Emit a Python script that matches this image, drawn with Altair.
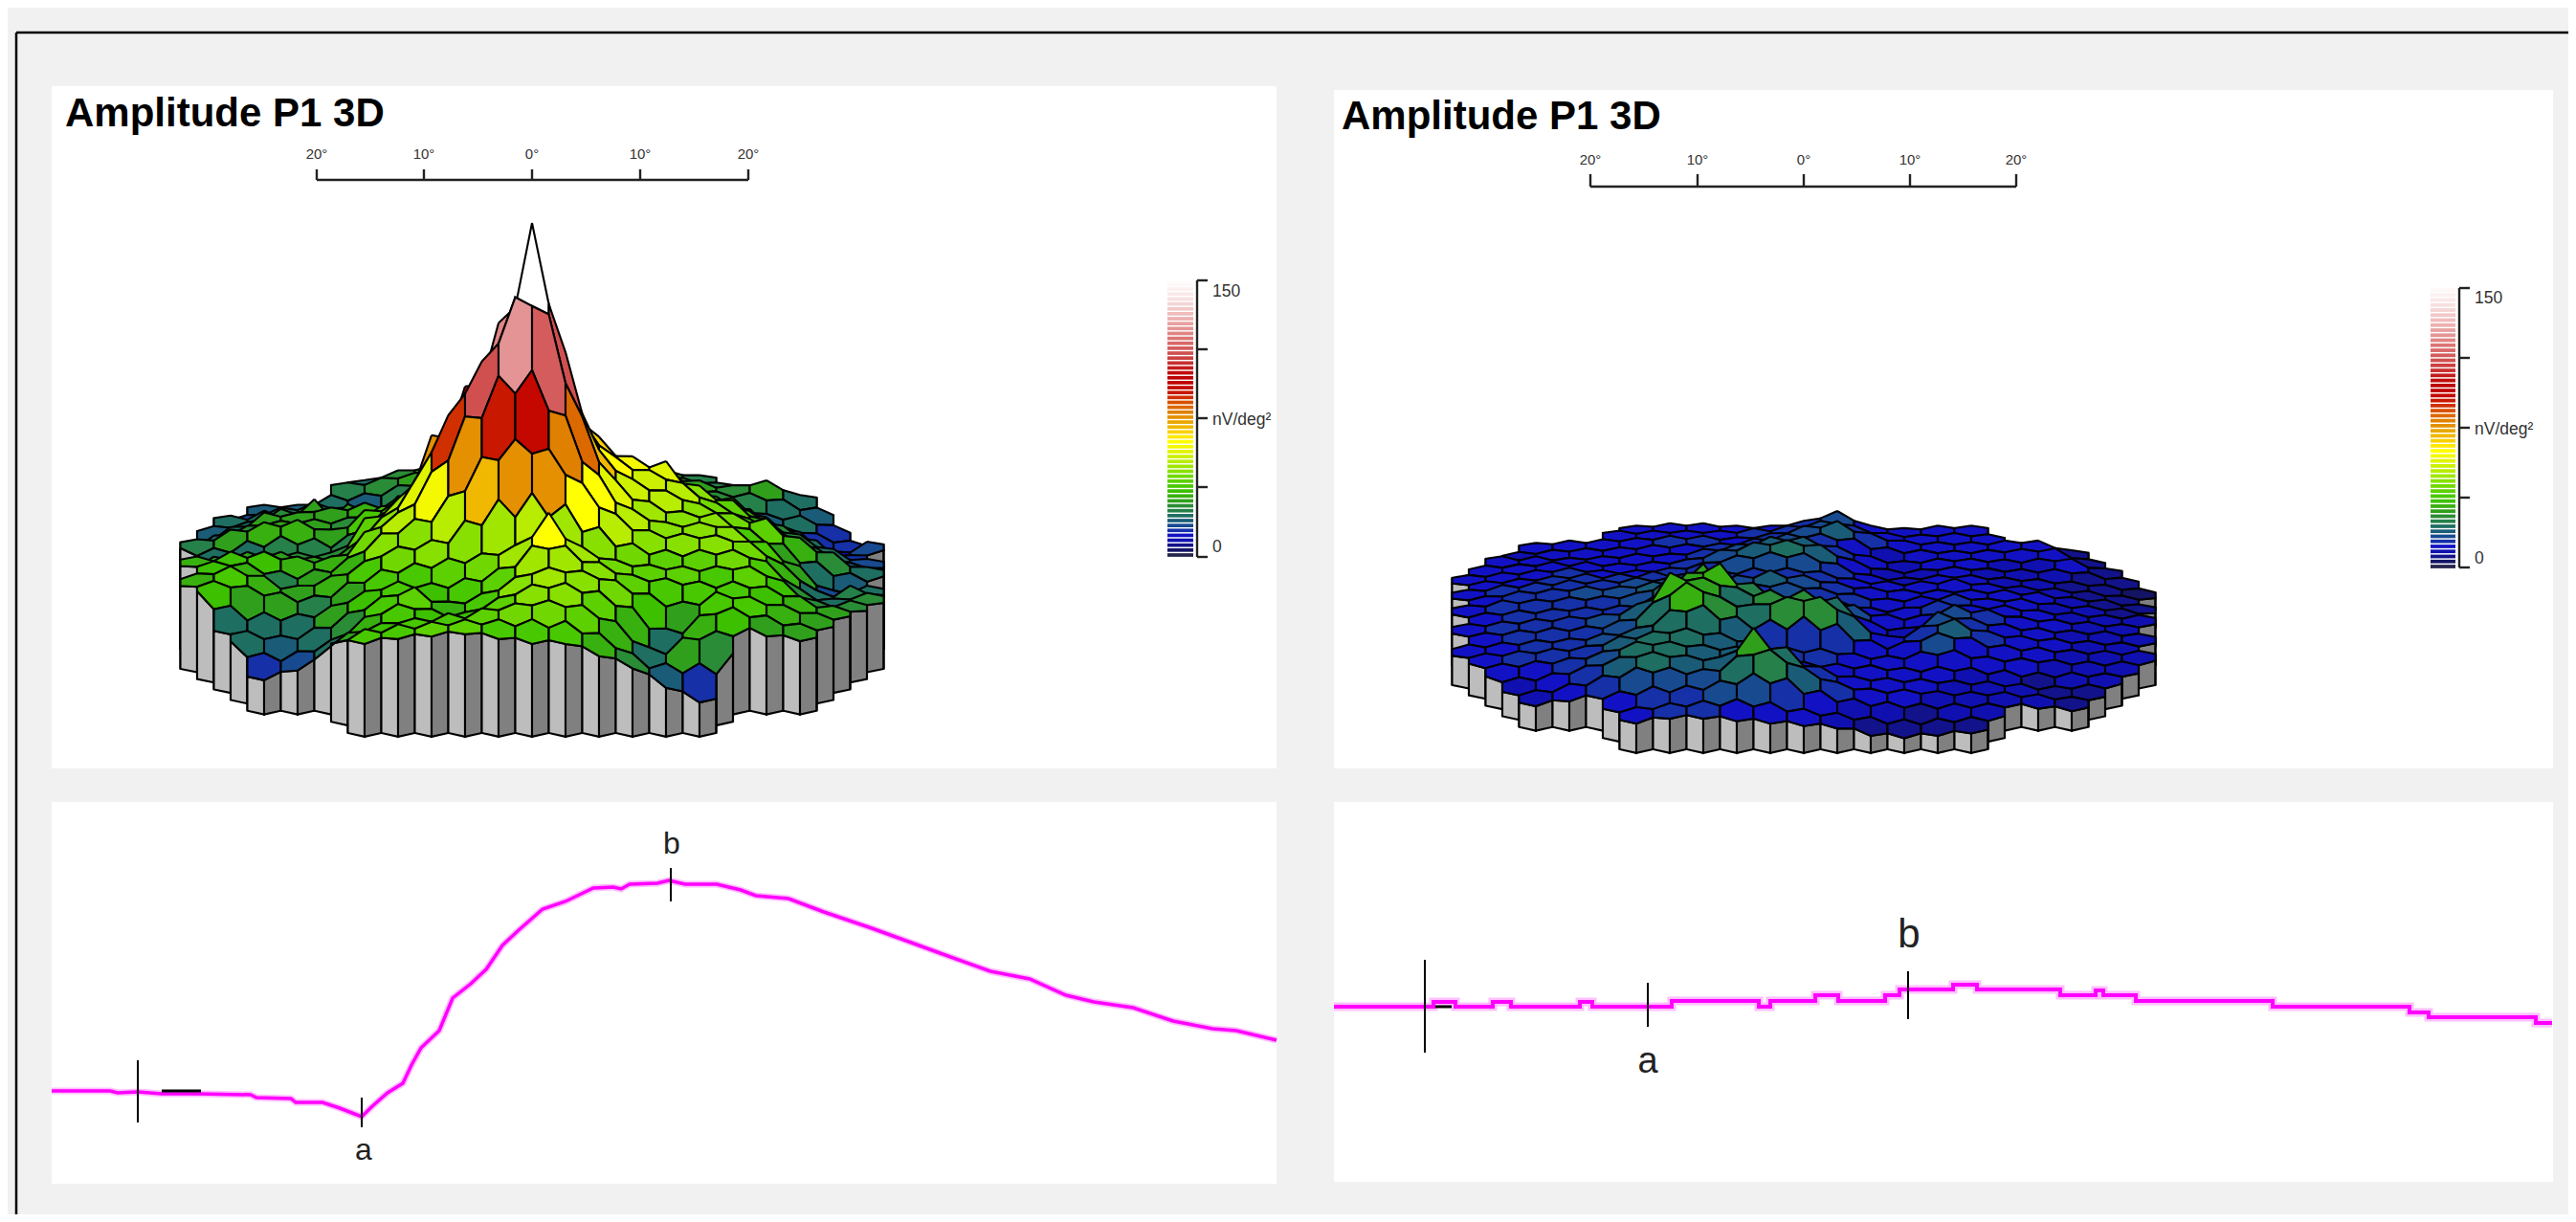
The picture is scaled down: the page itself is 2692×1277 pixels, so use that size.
import altair as alt
import pandas as pd

alt.data_transformers.disable_max_rows()

# ---- colour bar bands, bottom (0 nV) to top (150 nV)
PALETTE = ["#24244c","#141464","#12128a","#1010b0","#1212c4","#1630a8","#184a90","#1a5c78",
"#1f6e62","#26804a","#2a8c36","#30a01c","#38b010","#3cc000","#48c800","#5cd000","#70d800",
"#88e000","#a0e600","#b8ec00","#ccf000","#e0f400","#f4f800","#ffff00","#ffe800","#fad000",
"#f0b800","#e8a800","#e49000","#e08000","#dc6800","#d85000","#d03000","#c81800","#c40800",
"#c00000","#bc0404","#c00c0c","#c41c1c","#c83030","#cc4040","#d05050","#d45c5c","#d86868",
"#dc7474","#e08484","#e49494","#e8a0a0","#ecb0b0","#f0bcbc","#f2c8c8","#f4d4d4","#f8e0e0",
"#fae8e8","#fcf0f0","#fef8f8"]

ROWS = list(range(-10, 11))

# ---- response density per hexagon (nV/deg2), back row to front row, left to right
LEFT_AMP = [
[24,28,30,34,36,38,36,34,30,28,26],
[26,28,30,34,38,42,42,38,34,30,28,26],
[20,20,22,20,26,30,34,38,44,44,40,38,34,30,28,30,24],
[18,22,24,22,14,28,32,36,44,50,48,42,36,30,28,26,22,20],
[22,24,20,14,26,30,32,36,44,54,54,46,40,34,28,26,20,22,16],
[20,22,28,32,30,28,32,36,44,56,62,56,44,38,36,32,28,20,16,14],
[16,24,30,30,32,34,36,40,48,62,72,66,52,46,24,40,36,28,22,12,18],
[24,28,30,30,28,36,40,48,62,82,88,68,56,52,44,40,34,28,22,16],
[26,30,33,34,30,38,42,50,66,90,112,88,68,60,58,48,42,34,28,22,18],
[22,24,26,26,26,40,46,56,76,104,120,78,62,56,52,44,38,32,26,20],
[24,28,28,28,28,42,50,76,96,122,163,110,70,56,52,48,44,42,34,28,22],
[30,32,32,30,30,46,58,88,110,124,115,82,58,50,46,48,38,30,22,20],
[34,36,36,34,34,44,52,60,76,90,92,78,62,52,48,48,46,40,30,18,22],
[36,34,26,30,34,46,48,52,70,76,76,64,52,46,46,46,44,34,24,26],
[34,38,34,30,34,40,44,46,48,50,52,50,46,44,42,42,44,40,28,24,27],
[36,30,30,26,32,38,40,42,44,50,64,50,44,42,42,40,42,36,28,28],
[24,22,24,30,36,40,36,38,42,50,50,48,42,40,38,38,36,34,30],
[24,20,22,28,38,42,34,38,46,50,48,44,36,30,40,38,34,30],
[14,18,24,34,38,36,36,42,46,46,42,34,22,34,36,32,30],
[32,36,38,40,42,44,44,42,34,22,30,28],
[38,40,41,42,40,38,38,33,28,20,14],
]
RIGHT_AMP = [
[12,13,13,12,12,14,18,12,11,12,12],
[13,13,13,13,14,15,17,15,12,11,12,11],
[11,12,12,13,14,14,13,15,18,20,15,12,11,11,12,12,8],
[10,11,12,12,13,13,14,16,18,16,13,10,11,11,11,11,12,7],
[12,12,11,12,13,13,15,17,20,20,16,12,9,11,11,10,10,11,7],
[11,12,13,13,12,13,14,18,21,22,20,13,9,10,11,10,10,9,8,6],
[11,12,13,14,13,13,14,16,18,18,18,14,11,10,11,11,10,9,8,7,5],
[12,13,14,15,15,16,15,14,16,16,16,13,12,12,13,11,10,9,8,6],
[12,14,15,16,16,17,17,15,18,20,18,15,13,12,11,12,12,11,9,8,6],
[13,15,16,17,17,19,20,18,16,18,16,14,11,13,14,12,12,10,9,8],
[13,15,15,16,16,18,24,30,20,17,17,15,11,12,15,13,13,11,10,9,9],
[13,14,15,16,16,18,30,34,26,20,19,17,13,11,17,15,12,11,10,9],
[13,14,15,16,17,21,34,32,24,27,27,24,12,10,18,14,12,11,10,10,9],
[13,14,15,15,17,22,34,28,24,28,28,20,12,16,19,14,12,11,10,9],
[12,13,14,15,17,19,24,24,20,16,16,15,11,13,17,13,11,11,10,10,10],
[13,14,15,16,20,22,22,20,18,14,14,13,12,11,13,11,11,10,9,9],
[12,13,15,18,22,22,20,20,18,13,12,12,11,11,10,9,7,9,9],
[10,12,16,20,22,20,20,32,24,16,12,11,11,10,10,9,8,8],
[10,12,14,18,18,18,22,26,20,14,11,11,10,10,10,9,8],
[12,14,15,17,18,14,11,10,9,8,9,9],
[12,14,14,13,12,11,10,7,6,7,8],
]

# ---- waveforms (horizontal, vertical position on the page)
LEFT_TX = [54,115,123,144,169,206,262,268,304,309,337,355,378,388,405,421,430,440,459,473,492,508,525,542,567,591,620,641,649,658,687,699,716,749,774,790,824,861,911,944,985,1035,1076,1114,1143,1184,1226,1267,1292,1334]
LEFT_TY = [1140,1140,1142,1141,1143,1143,1144,1147,1148,1152,1152,1158,1167,1157,1142,1132,1113,1095,1077,1043,1028,1013,988,972,950,942,928,927,929,924,923,920,924,924,930,936,939,953,970,982,997,1015,1023,1040,1047,1053,1067,1075,1077,1087]
RIGHT_TX = [1394,1498,1521,1560,1579,1651,1664,1747,1838,1850,1897,1921,1970,1985,2041,2066,2153,2190,2198,2232,2375,2518,2538,2650,2667]
RIGHT_TY = [1052,1047,1052,1047,1052,1047,1052,1046,1052,1046,1040,1046,1040,1034,1029,1034,1040,1035,1040,1046,1052,1058,1063,1069,1069]

PANELS = [(54,1334,90,803),(54,1334,838,1237),(1394,2668,94,803),(1394,2668,838,1235)]
FRAME = [(17,2684,34,34),(17,17,34,1269)]
TICKS = [(144,144,1108,1173),(378,378,1147,1178),(701,701,907,942),
         (1489,1489,1003,1100),(1722,1722,1027,1073),(1994,1994,1015,1065)]
DASHES = [(169,210,1140,1140),(1500,1517,1052,1052)]
MARK_LABELS = [("a",380,1202,32),("b",702,882,32),("a",1722,1110,38),("b",1995,977,42)]
TITLES = [("Amplitude P1 3D",68,132),("Amplitude P1 3D",1402,135)]
RULERS = [([331,443,556,669,782],188,177,161),([1662,1774,1885,1996,2107],195,182,167)]
RULER_LABELS = ["20°","10°","0°","10°","20°"]
CBARS = [dict(x0=1220,x1=1247,y0=580,y1=297,ax=1251,tk=1262,ticks=[293,365,437,509,582],lx=1267,ly=[305,439,572]),
         dict(x0=2540,x1=2566,y0=592,y1=303,ax=2570,tk=2581,ticks=[301,374,447,520,593],lx=2586,ly=[312,449,584])]
CBAR_LABELS = ["150","nV/deg²","0"]
FONT = "Liberation Sans"
BG = "#f1f1f1"

# ---- projection of the hexagon field on to the page
HEX_W = 35.0
ROW_H = 9.7
TILT = 10.0
NV_PX = 2.55


def band(a):
    i = int(a / 150.0 * len(PALETTE))
    if i >= len(PALETTE):
        return "#ffffff"
    return PALETTE[max(i, 0)]


def surface(amp, cx, cy, start):
    cells = {}
    for r, row in zip(ROWS, amp):
        n = len(row)
        for k, a in enumerate(row):
            cells[(2 * k - (n - 1), r)] = a  # doubled column, row
    # hex corners in (doubled col, thirds of a row)
    offs = [(0, -2), (1, -1), (1, 1), (0, 2), (-1, 1), (-1, -1)]
    verts = {}
    for (c, r), a in cells.items():
        for dc, dr in offs:
            verts.setdefault((c + dc, 3 * r + dr), []).append(a)
    z = {k: sum(v) / len(v) for k, v in verts.items()}

    def xy(c, t, h):
        row = t / 3.0
        return cx + c * HEX_W / 2, cy + row * ROW_H + TILT * (row / 10.0) ** 2 - TILT - h * NV_PX

    out = []
    pid = start

    def add(points, colour):
        nonlocal pid
        points = points + [points[0]]
        for i, (px, py) in enumerate(points):
            out.append({"x": px, "y": py, "i": i, "pid": pid, "col": colour})
        pid += 1

    faces = [((-2, 0), (5, 4), "#bdbdbd"), ((-1, 1), (4, 3), "#bdbdbd"),
             ((1, 1), (3, 2), "#808080"), ((2, 0), (2, 1), "#808080")]
    for r in ROWS:
        row_cells = sorted(c for (c, rr) in cells if rr == r)
        for c in row_cells:
            a = cells[(c, r)]
            t = 3 * r
            for (nc, nr), (p, q), shade in faces:
                if (c + nc, r + nr) in cells:
                    continue
                v1 = (c + offs[p][0], t + offs[p][1])
                v2 = (c + offs[q][0], t + offs[q][1])
                add([xy(*v1, z[v1]), xy(*v2, z[v2]), xy(*v2, 0), xy(*v1, 0)], shade)
            poly = []
            for j, (dc, dr) in enumerate(offs):
                v = (c + dc, t + dr)
                h = z[v]
                if j == 0:
                    h = max(h, a)  # the back corner keeps the cell's own height
                poly.append(xy(*v, h))
            add(poly, band(a))
    return out, pid


left_poly, nxt = surface(LEFT_AMP, 556, 665, 0)
right_poly, _ = surface(RIGHT_AMP, 1885, 682, nxt)
polys = pd.DataFrame(left_poly + right_poly)

X = alt.X("x:Q", axis=None, scale=alt.Scale(domain=[8, 2684], nice=False, zero=False))
Y = alt.Y("y:Q", axis=None, scale=alt.Scale(domain=[1269, 8], nice=False, zero=False))


def seg_table(rows):
    return pd.DataFrame([{"x": a, "x2": b, "y": c, "y2": d} for a, b, c, d in rows])


def segs(rows, width, colour="black"):
    return alt.Chart(seg_table(rows)).mark_rule(stroke=colour, strokeWidth=width).encode(
        X, Y, x2="x2:Q", y2="y2:Q")


def texts(rows, **mark):
    df = pd.DataFrame(rows)
    return alt.Chart(df).mark_text(**mark).encode(X, Y, text="t:N")


layers = []
layers.append(alt.Chart(seg_table(PANELS)).mark_rect(fill="white", stroke=None).encode(X, Y, x2="x2:Q", y2="y2:Q"))
layers.append(segs(FRAME, 2.5))

# surfaces
layers.append(
    alt.Chart(polys).mark_line(stroke="black", strokeWidth=2.1).encode(
        X, Y, order=alt.Order("i:Q"), detail=alt.Detail("pid:Q"),
        fill=alt.Fill("col:N", scale=None))
)

# rulers
ruler_segs = []
ruler_text = []
for xs, base, top, ly in RULERS:
    ruler_segs.append((xs[0], xs[-1], base, base))
    for xv, lab in zip(xs, RULER_LABELS):
        ruler_segs.append((xv, xv, base, top))
        ruler_text.append({"t": lab, "x": xv, "y": ly})
layers.append(segs(ruler_segs, 2.4, "#222222"))
layers.append(texts(ruler_text, font=FONT, fontSize=15, align="center", baseline="middle", color="#333333"))

# colour bars
bars = []
cbar_segs = []
cbar_text = []
for cb in CBARS:
    step = (cb["y0"] - cb["y1"]) / (len(PALETTE) - 1)
    for i, colour in enumerate(PALETTE):
        yc = cb["y0"] - i * step
        bars.append({"x": cb["x0"], "x2": cb["x1"], "y": yc - step * 0.36, "y2": yc + step * 0.36, "col": colour})
    cbar_segs.append((cb["ax"], cb["ax"], cb["ticks"][0], cb["ticks"][-1]))
    for t in cb["ticks"]:
        cbar_segs.append((cb["ax"], cb["tk"], t, t))
    for lab, yl in zip(CBAR_LABELS, cb["ly"]):
        cbar_text.append({"t": lab, "x": cb["lx"], "y": yl})
layers.append(alt.Chart(pd.DataFrame(bars)).mark_rect().encode(X, Y, x2="x2:Q", y2="y2:Q", fill=alt.Fill("col:N", scale=None)))
layers.append(segs(cbar_segs, 2.4, "#222222"))
layers.append(texts(cbar_text, font=FONT, fontSize=17.5, align="left", baseline="middle", color="#333333"))

# titles
layers.append(texts([{"t": t, "x": a, "y": b} for t, a, b in TITLES],
                    font=FONT, fontSize=42, fontWeight="bold", align="left", baseline="alphabetic", color="black"))

# waveforms
left_tr = pd.DataFrame({"x": LEFT_TX, "y": LEFT_TY})
right_tr = pd.DataFrame({"x": RIGHT_TX, "y": RIGHT_TY})
layers.append(alt.Chart(left_tr).mark_line(stroke="#ff00ff", strokeWidth=7, opacity=0.25).encode(X, Y))
layers.append(alt.Chart(left_tr).mark_line(stroke="#ff00ff", strokeWidth=3.5).encode(X, Y))
layers.append(alt.Chart(right_tr).mark_line(stroke="#ff00ff", strokeWidth=9, opacity=0.25, interpolate="step-after").encode(X, Y))
layers.append(alt.Chart(right_tr).mark_line(stroke="#ff00ff", strokeWidth=4, interpolate="step-after").encode(X, Y))
layers.append(segs(TICKS, 2))
layers.append(segs(DASHES, 3))

for size in sorted({m[3] for m in MARK_LABELS}):
    rows = [{"t": m[0], "x": m[1], "y": m[2]} for m in MARK_LABELS if m[3] == size]
    layers.append(texts(rows, font=FONT, fontSize=size, align="center", baseline="middle", color="#222222"))

chart = alt.layer(*layers).properties(
    width=2676, height=1261, background=BG, padding=0,
    autosize=alt.AutoSizeParams(type="none"),
).configure_view(stroke=None)

chart.save("out.html", embed_options={"renderer": "svg", "actions": False})
